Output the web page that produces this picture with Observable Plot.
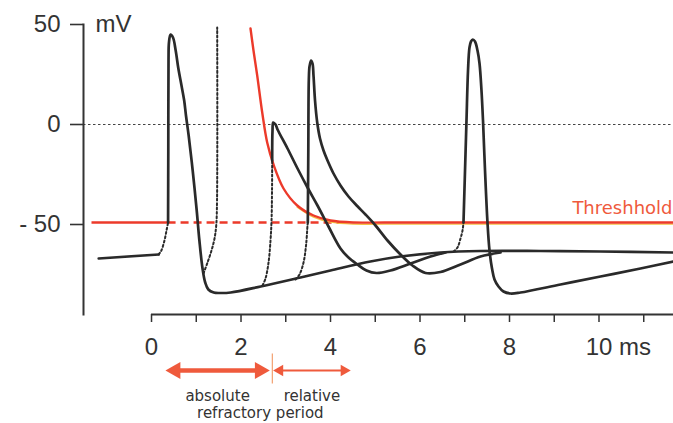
<!DOCTYPE html>
<html>
<head>
<meta charset="utf-8">
<script src="https://cdn.jsdelivr.net/npm/d3@7"></script>
<script src="https://cdn.jsdelivr.net/npm/@observablehq/plot@0.6"></script>
<style>
  html, body { margin: 0; padding: 0; background: #fff; }
  #chart svg { display: block; }
</style>
</head>
<body>
<div id="chart"></div>
<script>
// Axes
const timeDomain = [-1.52, 11.665];          // ms
const voltageDomain = [-95, 50];             // mV
const majorTimeTicks = [0, 2, 4, 6, 8, 10];
const minorTimeTicks = [1, 3, 5, 7, 9, 11];
const voltageTicks = [50, 0, -50];
const voltageTickLabels = ["50", "0", "- 50"];

// Threshold (mV) and the stretch drawn solid before the first stimulus
const threshold = -49;
const thresholdStart = -1.33;
const thresholdDashEnd = 4.3;

// Membrane potential traces, [time ms, potential mV]
const restingTrace = [[-1.18, -67], [0.16, -65]];
const mainTrace = [
  [0.37, -49], [0.375, -13], [0.38, 32], [0.39, 41], [0.425, 45], [0.48, 43.5],
  [0.54, 37], [0.60, 28], [0.67, 19.5], [0.73, 12], [0.77, 4.5], [0.83, -5.5],
  [0.92, -23], [1.01, -43], [1.07, -58], [1.14, -72], [1.20, -79], [1.27, -82.5],
  [1.39, -84], [1.52, -84.25], [1.77, -84], [2.44, -81], [3.33, -76.5], [4.0, -73],
  [4.89, -68.5], [5.56, -66], [6.46, -64], [7.35, -63.25], [8.69, -63.25],
  [10.03, -63.5], [11.665, -64]
];
const secondSpike = [
  [2.697, -18], [2.704, -3], [2.72, 1], [2.771, 0], [2.816, -2.5], [3.039, -12],
  [3.263, -22], [3.486, -31.5], [3.709, -40.5], [3.955, -51], [4.223, -62],
  [4.402, -66.5], [4.603, -70], [4.804, -73], [5.028, -74.25], [5.34, -73],
  [5.79, -69.5], [6.235, -66], [6.57, -64]
];
const thirdSpike = [
  [3.493, -49], [3.504, -13], [3.515, 22], [3.531, 29], [3.564, 32], [3.598, 30.5],
  [3.62, 24.5], [3.654, 12], [3.703, 1], [3.765, -7], [3.844, -13], [3.933, -18],
  [4.067, -24.5], [4.223, -30.5], [4.402, -36], [4.597, -40.75], [4.782, -45],
  [5.006, -50.5], [5.274, -58], [5.564, -65], [5.832, -70.5], [6.123, -74.25],
  [6.458, -73.75], [6.905, -70], [7.352, -66], [7.799, -64]
];
const fourthSpike = [
  [6.972, -49], [7.006, -23], [7.039, 2], [7.073, 27], [7.106, 38.5], [7.14, 41.5],
  [7.18, 42.5], [7.229, 41.5], [7.285, 37], [7.33, 30.5], [7.374, 17], [7.408, 2],
  [7.453, -23], [7.508, -49], [7.553, -63], [7.609, -72], [7.665, -77.5], [7.754, -81],
  [7.866, -83.5], [8.022, -84.5], [8.246, -84], [9.14, -80], [10.034, -76],
  [10.927, -72], [11.665, -68.5]
];

// Subthreshold depolarisations (dotted)
const stimulusRises = {
  first: [[0.16, -65], [0.22, -63], [0.29, -58], [0.335, -53], [0.37, -49]],
  blocked: [[1.162, -74.5], [1.251, -69], [1.341, -63], [1.408, -57], [1.446, -50.5], [1.464, -38], [1.468, 48.5]],
  second: [[2.48, -80.5], [2.547, -77], [2.615, -69], [2.659, -58], [2.682, -48], [2.693, -33], [2.697, -18]],
  third: [[3.218, -77.5], [3.307, -75], [3.397, -69], [3.453, -60.5], [3.486, -50.5], [3.493, -49]],
  fourth: [[6.749, -63.5], [6.838, -61.5], [6.905, -57], [6.95, -53], [6.972, -49]]
};

// Elevated threshold during the relative refractory period
const thresholdCurve = [
  [2.212, 48], [2.279, 37], [2.362, 24.5], [2.474, 6], [2.585, -9], [2.733, -20.5],
  [2.95, -32], [3.256, -40.5], [3.62, -45.5], [4.0, -48], [4.514, -49], [5.2, -49],
  [11.665, -49]
];

// Refractory periods (ms)
const refractory = [
  {phase: "absolute", from: 0.31, to: 2.645},
  {phase: "relative", from: 2.72, to: 4.45}
];
const refractoryBoundary = 2.7;

const rows = (pts, seg) => pts.map(([t, v]) => ({t, v, seg}));
const solidRows = [
  ...rows(restingTrace, "rest"),
  ...rows(mainTrace, "main"),
  ...rows(secondSpike, "second"),
  ...rows(thirdSpike, "third"),
  ...rows(fourthSpike, "fourth")
];
const dottedRows = Object.entries(stimulusRises).flatMap(([k, pts]) => rows(pts, k));
const curveRows = rows(thresholdCurve, "threshold");

const ink = "#2a2a2a";
const red = "#ec3a2a";
const orange = "#ef5a3c";
const sans = "'DejaVu Sans', sans-serif";

const vbar = {draw(ctx, size) { const h = Math.sqrt(size / Math.PI); ctx.moveTo(0, -h); ctx.lineTo(0, h); }};
const arrowY = () => voltageDomain[0];

const chart = Plot.plot({
  width: 673,
  height: 423,
  marginLeft: 83,
  marginRight: 0,
  marginTop: 24,
  marginBottom: 109,
  style: {fontFamily: "'Liberation Sans', Arial, sans-serif", fontSize: "24px", color: "#333", background: "#fff", overflow: "visible"},
  x: {domain: timeDomain, axis: null},
  y: {domain: voltageDomain, axis: null},
  marks: [
    // 0 mV reference
    Plot.ruleY([0], {stroke: "#444", strokeWidth: 1, strokeDasharray: "2.5,2.5"}),
    // threshold: solid before stimulus, dashed while hidden by the spikes
    Plot.ruleY([{v: threshold, x1: thresholdStart, x2: stimulusRises.first.at(-1)[0]}],
      {y: "v", x1: "x1", x2: "x2", stroke: red, strokeWidth: 2.3}),
    Plot.ruleY([{v: threshold, x1: stimulusRises.first.at(-1)[0], x2: thresholdDashEnd}],
      {y: "v", x1: "x1", x2: "x2", stroke: red, strokeWidth: 2.3, strokeDasharray: "8,5"}),
    Plot.line(curveRows.filter(d => d.t >= 3.2), {x: "t", y: "v", curve: "catmull-rom", stroke: "#f4c244", strokeWidth: 1.4, dy: 1.6}),
    Plot.line(curveRows, {x: "t", y: "v", curve: "catmull-rom", stroke: red, strokeWidth: 2.4}),
    Plot.text([{t: timeDomain[1], v: threshold, label: "Threshhold"}],
      {x: "t", y: "v", text: "label", textAnchor: "end", lineAnchor: "bottom", dx: -1, dy: -9,
       fill: orange, fontFamily: sans, fontSize: 18}),
    // dotted stimulus rises
    Plot.line(dottedRows, {x: "t", y: "v", z: "seg", curve: "catmull-rom", stroke: ink, strokeWidth: 2, strokeDasharray: "2,2.4"}),
    // action potentials
    Plot.line(solidRows, {x: "t", y: "v", z: "seg", curve: "catmull-rom", stroke: ink, strokeWidth: 2.7, strokeLinejoin: "round", strokeLinecap: "round"}),
    // axes
    Plot.frame({anchor: "left", stroke: "#333", strokeWidth: 2}),
    Plot.axisY(voltageTicks, {anchor: "left", tickSize: 13, tickPadding: 10, label: null, strokeWidth: 1.6,
      tickFormat: d => voltageTickLabels[voltageTicks.indexOf(d)]}),
    Plot.text(["mV"], {frameAnchor: "top-left", dx: 12, textAnchor: "start", lineAnchor: "middle"}),
    Plot.ruleY([{v: voltageDomain[0], x1: majorTimeTicks[0], x2: timeDomain[1]}],
      {y: "v", x1: "x1", x2: "x2", stroke: "#333", strokeWidth: 2}),
    Plot.axisX(majorTimeTicks, {anchor: "bottom", tickSize: 8, tickPadding: 15, label: null, strokeWidth: 1.5}),
    Plot.axisX(minorTimeTicks, {anchor: "bottom", tickSize: 8, tickFormat: () => "", label: null, strokeWidth: 1.5}),
    Plot.text([{t: majorTimeTicks.at(-1), label: "ms"}],
      {x: "t", text: "label", frameAnchor: "bottom", dx: 20, dy: 23, textAnchor: "start", lineAnchor: "top"}),
    // refractory period annotation
    Plot.ruleY(refractory.slice(0, 1), {x1: "from", x2: "to", y: arrowY, dy: 56, stroke: orange, strokeWidth: 4.5, insetLeft: 6, insetRight: 6}),
    Plot.ruleY(refractory.slice(1), {x1: "from", x2: "to", y: arrowY, dy: 56, stroke: orange, strokeWidth: 2, insetLeft: 4, insetRight: 4}),
    Plot.dot(refractory.slice(0, 1), {x: "from", y: arrowY, dy: 56, dx: 10, symbol: "triangle", r: 6.4, rotate: -90, fill: orange, stroke: "none"}),
    Plot.dot(refractory.slice(0, 1), {x: "to", y: arrowY, dy: 56, dx: -10, symbol: "triangle", r: 6.4, rotate: 90, fill: orange, stroke: "none"}),
    Plot.dot(refractory.slice(1), {x: "from", y: arrowY, dy: 56, dx: 6.6, symbol: "triangle", r: 4.3, rotate: -90, fill: orange, stroke: "none"}),
    Plot.dot(refractory.slice(1), {x: "to", y: arrowY, dy: 56, dx: -6.6, symbol: "triangle", r: 4.3, rotate: 90, fill: orange, stroke: "none"}),
    Plot.dot([refractoryBoundary], {x: d => d, y: arrowY, dy: 54, symbol: vbar, r: 15, stroke: "#f3a070", strokeWidth: 1.2}),
    Plot.text(refractory, {x: d => (d.from + d.to) / 2, text: "phase", frameAnchor: "bottom", dy: 86, lineAnchor: "bottom",
      fill: "#333", fontFamily: sans, fontSize: 15}),
    Plot.text(["refractory period"], {x: () => refractoryBoundary, frameAnchor: "bottom", dx: -12, dy: 103, lineAnchor: "bottom",
      fill: "#333", fontFamily: sans, fontSize: 15})
  ]
});
document.getElementById("chart").append(chart);
</script>
</body>
</html>
